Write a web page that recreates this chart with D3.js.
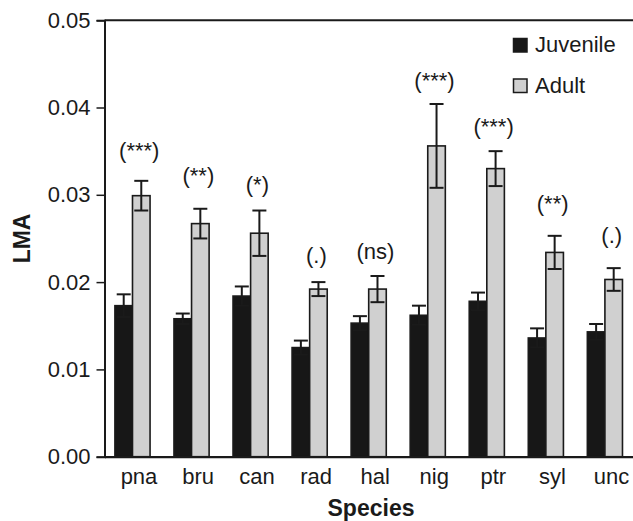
<!DOCTYPE html>
<html>
<head>
<meta charset="utf-8">
<script src="https://cdn.jsdelivr.net/npm/d3@7"></script>
<style>
  body { margin: 0; background: #fff; }
  text { font-family: "Liberation Sans", Arial, sans-serif; fill: #1a1a1a; }
</style>
</head>
<body>
<div id="chart"></div>
<script>
// species and LMA means / standard errors
const species = ["pna", "bru", "can", "rad", "hal", "nig", "ptr", "syl", "unc"];
const juvenile = [0.0173, 0.0158, 0.0184, 0.0125, 0.0153, 0.0162, 0.0178, 0.0136, 0.0143];
const juvenileErr = [0.0013, 0.0006, 0.0011, 0.0008, 0.0008, 0.0011, 0.0010, 0.0011, 0.0009];
const adult = [0.0299, 0.0267, 0.0256, 0.0192, 0.0192, 0.0356, 0.0330, 0.0234, 0.0203];
const adultErr = [0.0017, 0.0017, 0.0026, 0.0008, 0.0015, 0.0048, 0.0020, 0.0019, 0.0013];
const signif = ["(***)", "(**)", "(*)", "(.)", "(ns)", "(***)", "(***)", "(**)", "(.)"];
const signifY = [0.0342, 0.0313, 0.0303, 0.0222, 0.0227, 0.0422, 0.0370, 0.0281, 0.0245];
const yTicks = [0, 0.01, 0.02, 0.03, 0.04, 0.05];
const seriesNames = ["Juvenile", "Adult"];
const seriesColors = ["#171717", "#d0d0d0"];

const width = 633, height = 521;
const mLeft = 104.5, mTop = 20.2, mBottom = 456.7, mRight = 633;

const svg = d3.select("#chart").append("svg")
  .attr("width", width)
  .attr("height", height);

const x = d3.scaleBand()
  .domain(species)
  .range([mLeft, 632.9])
  .paddingInner(0.405)
  .paddingOuter(0.1765);

const xSub = d3.scaleBand()
  .domain(seriesNames)
  .range([0, x.bandwidth()]);

const y = d3.scaleLinear()
  .domain([0, 0.05])
  .range([mBottom, mTop]);

const rows = species.map((s, i) => ({
  s: s,
  vals: [
    { key: "Juvenile", v: juvenile[i], e: juvenileErr[i] },
    { key: "Adult", v: adult[i], e: adultErr[i] }
  ],
  sig: signif[i],
  sigY: signifY[i]
}));

// bars
const groups = svg.append("g").selectAll("g")
  .data(rows)
  .join("g")
  .attr("transform", d => "translate(" + x(d.s) + ",0)");

groups.selectAll("rect")
  .data(d => d.vals)
  .join("rect")
  .attr("x", d => xSub(d.key))
  .attr("y", d => y(d.v))
  .attr("width", xSub.bandwidth())
  .attr("height", d => y(0) - y(d.v))
  .attr("fill", (d, i) => seriesColors[i])
  .attr("stroke", "#1a1a1a")
  .attr("stroke-width", 1.6);

// error bars
const capW = 14;
const eb = groups.selectAll("g.err")
  .data(d => d.vals)
  .join("g")
  .attr("class", "err")
  .attr("stroke", "#1a1a1a")
  .attr("stroke-width", 2);

eb.append("line")
  .attr("x1", d => xSub(d.key) + xSub.bandwidth() / 2)
  .attr("x2", d => xSub(d.key) + xSub.bandwidth() / 2)
  .attr("y1", d => y(d.v - d.e))
  .attr("y2", d => y(d.v + d.e));
eb.append("line")
  .attr("x1", d => xSub(d.key) + xSub.bandwidth() / 2 - capW / 2)
  .attr("x2", d => xSub(d.key) + xSub.bandwidth() / 2 + capW / 2)
  .attr("y1", d => y(d.v + d.e))
  .attr("y2", d => y(d.v + d.e));
eb.append("line")
  .attr("x1", d => xSub(d.key) + xSub.bandwidth() / 2 - capW / 2)
  .attr("x2", d => xSub(d.key) + xSub.bandwidth() / 2 + capW / 2)
  .attr("y1", d => y(d.v - d.e))
  .attr("y2", d => y(d.v - d.e));

// significance labels
groups.append("text")
  .attr("x", xSub("Adult") + xSub.bandwidth() / 2 - 2)
  .attr("y", d => y(d.sigY))
  .attr("text-anchor", "middle")
  .style("font-size", "22px")
  .text(d => d.sig);

// y axis
const yAxis = svg.append("g")
  .attr("transform", "translate(" + mLeft + ",0)")
  .call(d3.axisLeft(y).tickValues(yTicks).tickFormat(d3.format(".2f")).tickSize(8).tickPadding(6));
yAxis.select(".domain").attr("stroke", "#1a1a1a").attr("stroke-width", 2);
yAxis.selectAll(".tick line").attr("stroke", "#1a1a1a").attr("stroke-width", 1.5);
yAxis.selectAll(".tick text")
  .style("font-size", "22px")
  .style("font-family", "Liberation Sans, Arial, sans-serif")
  .attr("fill", "#1a1a1a");

// x axis
const xAxis = svg.append("g")
  .attr("transform", "translate(0," + mBottom + ")")
  .call(d3.axisBottom(x).tickSize(0).tickPadding(12));
xAxis.select(".domain").attr("stroke", "#1a1a1a").attr("stroke-width", 2.2);
xAxis.selectAll(".tick text")
  .attr("dx", 6.5)
  .attr("dy", "0.71em")
  .style("font-size", "22px")
  .style("font-family", "Liberation Sans, Arial, sans-serif")
  .attr("fill", "#1a1a1a");

// top frame line
svg.append("line")
  .attr("x1", mLeft).attr("x2", mRight)
  .attr("y1", mTop).attr("y2", mTop)
  .attr("stroke", "#1a1a1a")
  .attr("stroke-width", 2);

// axis titles
svg.append("text")
  .attr("x", 371)
  .attr("y", 516)
  .attr("text-anchor", "middle")
  .style("font-size", "23px")
  .style("font-weight", "bold")
  .text("Species");

svg.append("text")
  .attr("transform", "translate(30," + (mTop + mBottom) / 2 + ") rotate(-90)")
  .attr("text-anchor", "middle")
  .style("font-size", "23px")
  .style("font-weight", "bold")
  .text("LMA");

// legend
const legend = svg.append("g")
  .attr("transform", "translate(513.5,38.5)");
const li = legend.selectAll("g")
  .data(seriesNames)
  .join("g")
  .attr("transform", (d, i) => "translate(0," + i * 40.5 + ")");
li.append("rect")
  .attr("width", 13.5)
  .attr("height", 13.5)
  .attr("fill", (d, i) => seriesColors[i])
  .attr("stroke", "#1a1a1a")
  .attr("stroke-width", 1.5);
li.append("text")
  .attr("x", 21.5)
  .attr("y", 13.5)
  .style("font-size", "22px")
  .text(d => d);
</script>
</body>
</html>
